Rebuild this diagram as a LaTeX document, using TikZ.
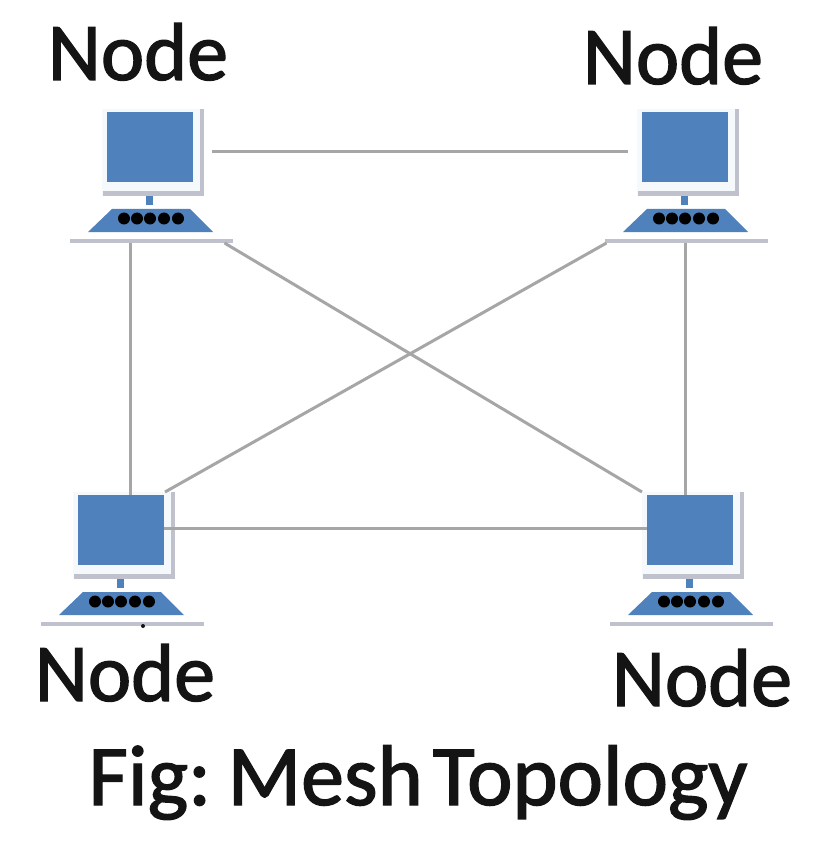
\documentclass[tikz,border=0pt]{standalone}
\usepackage{fontspec}
\setmainfont{Carlito}
\newfontfamily\heavyfont[FakeBold=1.6]{Carlito}
\definecolor{pcblue}{HTML}{4F81BD}
\definecolor{pcgrey}{HTML}{BFC2CC}
\definecolor{wire}{HTML}{A6A6A6}
\definecolor{ink}{HTML}{141414}
\tikzset{
  x=1pt,y=-1pt,
  screenbox/.style={fill=pcblue,draw=none,minimum width=86pt,minimum height=70pt,inner sep=0pt,outer sep=0pt,anchor=north west},
  shelf/.style={fill=pcgrey,draw=none,minimum width=163pt,minimum height=4pt,inner sep=0pt,outer sep=0pt},
  wireline/.style={draw=wire,line width=3pt},
  nodelabel/.style={font=\heavyfont\fontsize{82}{82}\selectfont,text=ink,anchor=base,inner sep=0pt},
  caption/.style={font=\heavyfont\fontsize{86}{86}\selectfont,text=ink,anchor=base,inner sep=0pt},
  computer/.pic={
    \fill[white!95!pcblue] (-5,-3) rectangle (96,83);
    \fill[pcgrey] (93,-3) rectangle (97,84);
    \fill[pcgrey] (-4,79) rectangle (97,84);
    \node[screenbox] (-screen) at (0,0) {};
    \fill[pcblue] (39,84) rectangle (46,93);
    \fill[pcblue] (5,97) -- (83,97) -- (106,120) -- (-19,120) -- cycle;
    \foreach \dx in {17,30,43,57,71}
      \fill[black] (\dx,106.5) circle (6);
    \node[shelf] (-base) at (44,129) {};
  }
}
\begin{document}
\begin{tikzpicture}
\useasboundingbox (0,0) rectangle (832,850);
\fill[white] (0,0) rectangle (832,850);
\pic (tl) at (107,112) {computer};
\pic (tr) at (642,112) {computer};
\pic (bl) at (78,495) {computer};
\pic (br) at (647,495) {computer};
\draw[wireline] ([shift={(19,5)}]tl-screen.east) -- ([shift={(-14,5)}]tr-screen.west);
\draw[wireline] ([xshift=-21pt]tl-base.south) -- ([xshift=-21pt]tl-base.south |- bl-screen.north);
\draw[wireline] (tl-base.south east) ++(-8,0) -- ([shift={(-5,-3)}]br-screen.north west);
\draw[wireline] (tr-base.south west) ++(2,0) -- ([shift={(1,-3)}]bl-screen.north east);
\draw[wireline] ([xshift=-1pt]tr-base.south) -- ([xshift=-1pt]tr-base.south |- br-screen.north);
\draw[wireline] ([yshift=2pt]bl-screen.east) -- ([yshift=2pt]br-screen.west);
\fill[ink] (143,626) circle (2);
\node[nodelabel] (n1) at (138,80) {Node};
\node[nodelabel] (n2) at (673,84) {Node};
\node[nodelabel] (n3) at (125,701) {Node};
\node[nodelabel] (n4) at (702,706) {Node};
\node[caption] (cap) at (418,805) {\spaceskip=10pt Fig: Mesh Topology};
\end{tikzpicture}
\end{document}
